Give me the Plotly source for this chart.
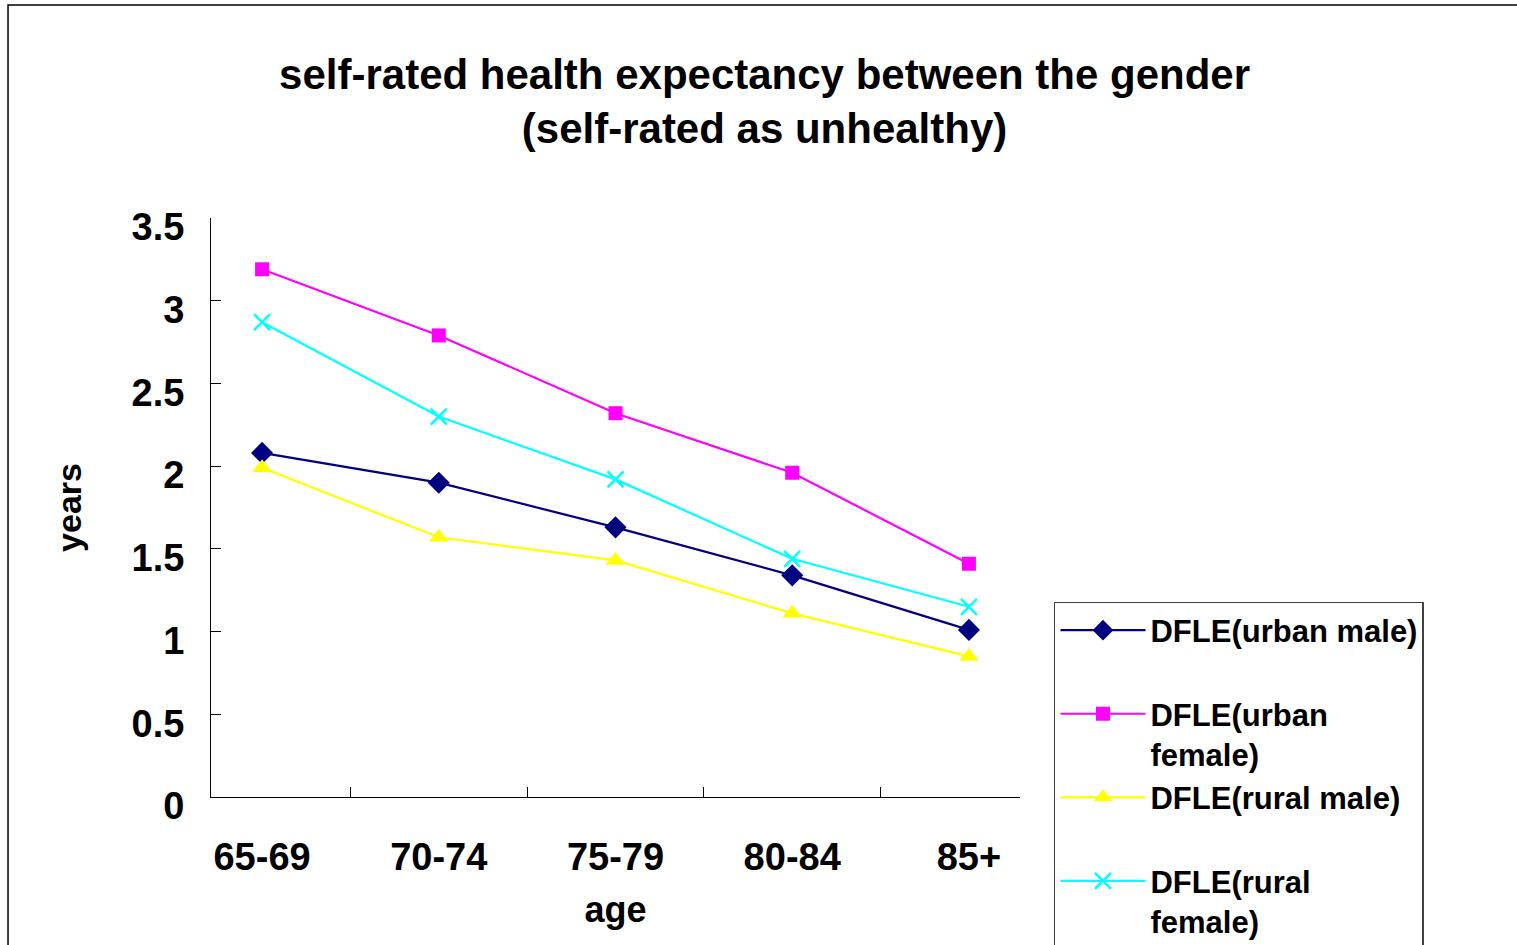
import plotly.graph_objects as go

# Age groups on the category axis
age_groups = ["65-69", "70-74", "75-79", "80-84", "85+"]

# Self-rated unhealthy life expectancy (years) by group
urban_male = [2.08, 1.90, 1.63, 1.34, 1.01]
urban_female = [3.19, 2.79, 2.32, 1.96, 1.41]
rural_male = [1.99, 1.57, 1.43, 1.11, 0.85]
rural_female = [2.87, 2.30, 1.92, 1.44, 1.15]

series_names = [
    "DFLE(urban male)<br> ",
    "DFLE(urban<br>female)",
    "DFLE(rural male)<br> ",
    "DFLE(rural<br>female)",
]

FONT = "Liberation Sans, Arial, sans-serif"

fig = go.Figure()

styles = [
    (urban_male, "#000080", dict(symbol="diamond", size=17)),
    (urban_female, "#FF00FF", dict(symbol="square", size=14)),
    (rural_male, "#FFFF00", dict(symbol="triangle-up", size=17)),
    (rural_female, "#00FFFF", dict(symbol="x-thin", size=16, line=dict(width=2.5, color="#00FFFF"))),
]

for name, (vals, color, marker) in zip(series_names, styles):
    fig.add_trace(go.Scatter(
        x=age_groups,
        y=vals,
        name=name,
        mode="lines+markers",
        line=dict(color=color, width=2.2),
        marker=dict(color=color, **marker),
    ))

# Outer chart frame (extends past the right and bottom edges of the page)
fig.add_shape(
    type="rect", xref="paper", yref="paper",
    x0=-0.2509, x1=1.66, y0=-0.30, y1=1.3679,
    line=dict(color="black", width=1.5), fillcolor="rgba(0,0,0,0)",
    layer="below",
)

fig.update_layout(
    width=1517,
    height=945,
    margin=dict(l=211, r=497, t=218, b=148, autoexpand=False),
    paper_bgcolor="white",
    plot_bgcolor="white",
    font=dict(family=FONT, color="black", size=36, weight="bold"),
    title=dict(
        text="self-rated health expectancy between the gender<br>(self-rated as unhealthy)",
        x=0.504, xref="container", xanchor="center",
        y=0.906, yref="container", yanchor="middle",
        font=dict(family=FONT, size=42, color="black", weight="bold"),
    ),
    showlegend=True,
    legend=dict(
        x=1.042, xanchor="left",
        y=0.3368, yanchor="top",
        bordercolor="#404040", borderwidth=1.5,
        bgcolor="white",
        font=dict(family=FONT, size=31, color="black", weight="bold"),
        valign="top",
        itemwidth=85,
        maxheight=1000,
        tracegroupgap=0,
    ),
    xaxis=dict(
        type="category",
        automargin=False,
        showline=True, linecolor="black", linewidth=1,
        ticks="inside", ticklen=10, tickcolor="black",
        tickson="boundaries",
        showgrid=False, zeroline=False,
        tickfont=dict(family=FONT, size=38, weight="bold"),
        ticklabelstandoff=26,
        title=dict(text="age", font=dict(family=FONT, size=36, weight="bold"), standoff=20),
    ),
    yaxis=dict(
        automargin=False,
        range=[0, 3.5],
        tickvals=[0, 0.5, 1, 1.5, 2, 2.5, 3, 3.5],
        ticktext=["0", "0.5", "1", "1.5", "2", "2.5", "3", "3.5"],
        showline=True, linecolor="black", linewidth=1,
        ticks="inside", ticklen=10, tickcolor="black",
        showgrid=False, zeroline=False,
        tickfont=dict(family=FONT, size=38, weight="bold"),
        ticklabelstandoff=18,
        ticklabelshift=9,
        title=dict(text="years", font=dict(family=FONT, size=34, weight="bold"), standoff=39),
    ),
)

fig.write_html("out.html")
